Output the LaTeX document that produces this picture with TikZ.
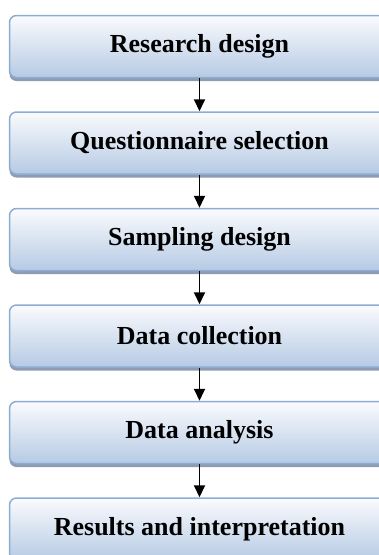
\documentclass[tikz,border=0pt]{standalone}
\usepackage{fontspec}
\setmainfont{Liberation Serif}
\usetikzlibrary{positioning,arrows.meta,shadows}
\definecolor{BoxTop}{RGB}{250,251,253}
\definecolor{BoxBottom}{RGB}{182,202,228}
\definecolor{BoxBorder}{RGB}{140,172,212}
\definecolor{BoxShadow}{RGB}{130,145,170}
\tikzset{
  % Stage of the study
  stagebox/.style={
    rectangle,
    rounded corners=7pt,
    draw=BoxBorder,
    line width=1.5pt,
    top color=BoxTop,
    bottom color=BoxBottom,
    minimum width=380pt,
    minimum height=62pt,
    font=\fontsize{26}{30}\selectfont\bfseries,
    drop shadow={shadow xshift=0pt, shadow yshift=-3.5pt, fill=BoxShadow, opacity=0.9}
  },
  % Arrow between stages
  flow/.style={
    draw=black,
    line width=1.8pt,
    -{Triangle[width=11pt,length=12pt]}
  }
}
\begin{document}
\begin{tikzpicture}[x=1pt, y=1pt, node distance=33pt]
  \useasboundingbox (0,0) rectangle (379,-555);
  \node[stagebox] (design) at (199.5,-46.5) {Research design};
  \node[stagebox, below=of design] (quest) {Questionnaire selection};
  \node[stagebox, below=of quest] (sampling) {Sampling design};
  \node[stagebox, below=of sampling] (collect) {Data collection};
  \node[stagebox, below=of collect] (analysis) {Data analysis};
  \node[stagebox, below=of analysis] (results) {Results and interpretation};
  \draw[flow] (design) -- (quest);
  \draw[flow] (quest) -- (sampling);
  \draw[flow] (sampling) -- (collect);
  \draw[flow] (collect) -- (analysis);
  \draw[flow] (analysis) -- (results);
\end{tikzpicture}
\end{document}
